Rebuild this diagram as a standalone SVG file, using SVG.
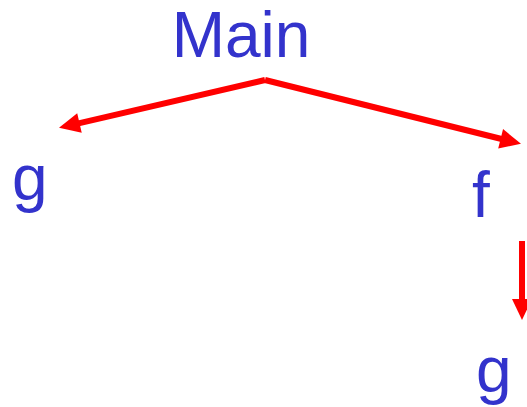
<svg xmlns="http://www.w3.org/2000/svg" width="527" height="407" viewBox="0 0 527 407">
<style>
.lbl{font-family:"Liberation Sans",Arial,sans-serif;font-size:64px;fill:#3333CC}
.edge{stroke:#FF0000;stroke-width:6;fill:none}
</style>
<defs>
<marker id="ah" markerUnits="userSpaceOnUse" markerWidth="21" markerHeight="20" refX="1" refY="10" orient="auto" overflow="visible">
<path d="M0,0 L21,10 L0,20 z" fill="#FF0000"/>
</marker>
</defs>
<rect width="527" height="407" fill="#FFFFFF"/>
<g id="connectors">
<line class="edge" x1="265" y1="80" x2="78.5" y2="123.3" marker-end="url(#ah)"/>
<line class="edge" x1="265" y1="80" x2="501.6" y2="139" marker-end="url(#ah)"/>
<line class="edge" x1="522" y1="241" x2="522" y2="300" marker-end="url(#ah)"/>
</g>
<g id="main"><text class="lbl" x="241" y="57" text-anchor="middle">Main</text></g>
<g id="g1"><text class="lbl" x="12" y="200">g</text></g>
<g id="f"><text class="lbl" x="472" y="217">f</text></g>
<g id="g2"><text class="lbl" x="476" y="392">g</text></g>
</svg>
